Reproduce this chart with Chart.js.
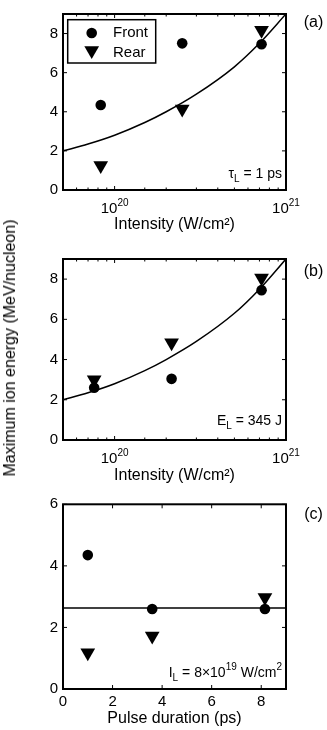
<!DOCTYPE html>
<html>
<head>
<meta charset="utf-8">
<script src="https://cdn.jsdelivr.net/npm/chart.js@4.4.0/dist/chart.umd.min.js"></script>
<style>
  body { margin: 0; background: #fff; }
  #wrap { position: relative; width: 327px; height: 730px; overflow: hidden; }
  canvas { position: absolute; left: 0; }
  #ylab {
    position: absolute; left: 9.5px; top: 348px;
    transform: translate(-50%, -50%) rotate(-90deg);
    font: 16px "Liberation Sans", Arial, sans-serif; line-height: 16px;
    white-space: nowrap; color: #000;
  }
</style>
</head>
<body>
<div id="wrap">
  <canvas id="panelA" width="327" height="245" style="top:0px"></canvas>
  <canvas id="panelB" width="327" height="240" style="top:245px"></canvas>
  <canvas id="panelC" width="327" height="245" style="top:485px"></canvas>
  <div id="ylab">Maximum ion energy (MeV/nucleon)</div>
</div>
<script>
// (a) laser pulse 1 ps, varying intensity
const intensityA = [8.3e19, 2.48e20, 7.2e20];
const frontA = [4.35, 7.5, 7.45];
const rearA = [1.25, 4.14, 8.17];
// (b) laser energy 345 J
const intensityB = [7.6e19, 2.15e20, 7.2e20];
const frontB = [2.6, 3.04, 7.45];
const rearB = [3.0, 4.83, 8.05];
// (c) fixed intensity, varying duration
const durationC = [1, 3.6, 8.15];
const frontC = [4.35, 2.6, 2.6];
const rearC = [1.18, 1.72, 2.97];
// fitted curves
const fitIntensity = [5e19, 7e19, 1e20, 1.5e20, 2e20, 3e20, 5e20, 7e20, 1e21];
const fitEnergy = [2.0, 2.35, 2.8, 3.45, 4.0, 4.9, 6.3, 7.5, 9.0];
const fitDuration = [0, 9];
const fitFlat = [2.63, 2.63];

const FONT = '"Liberation Sans", Arial, sans-serif';

function pts(xs, ys) {
  return xs.map((x, i) => ({ x: x, y: ys[i] }));
}

function drawRich(ctx, parts, x, base, size, align) {
  const small = Math.round(size * 0.68);
  let widths = parts.map(p => {
    ctx.font = (p[1] ? small : size) + 'px ' + FONT;
    return ctx.measureText(p[0]).width;
  });
  const total = widths.reduce((a, b) => a + b, 0);
  let cx = align === 'right' ? x - total : align === 'center' ? x - total / 2 : x;
  ctx.textBaseline = 'alphabetic';
  ctx.textAlign = 'left';
  parts.forEach((p, i) => {
    ctx.font = (p[1] ? small : size) + 'px ' + FONT;
    let dy = p[1] === -1 ? size * 0.3 : p[1] === 1 ? -size * 0.45 : 0;
    ctx.fillText(p[0], cx, base + dy);
    cx += widths[i];
  });
}

const decoPlugin = {
  id: 'deco',
  afterDatasetsDraw(chart, args, o) {
    const { ctx, chartArea: a, scales: { x, y } } = chart;
    ctx.save();
    ctx.fillStyle = '#000';
    ctx.strokeStyle = '#000';
    ctx.lineWidth = 1;
    // inward ticks on all four sides
    x.ticks.forEach(t => {
      const px = x.getPixelForValue(t.value);
      let major = true;
      if (o.logX) {
        const lg = Math.log10(t.value);
        major = Math.abs(lg - Math.round(lg)) < 1e-6;
      }
      const len = major ? 4 : 2.5;
      ctx.beginPath();
      ctx.moveTo(px, a.bottom); ctx.lineTo(px, a.bottom - len);
      ctx.moveTo(px, a.top); ctx.lineTo(px, a.top + len);
      ctx.stroke();
      if (o.logX) {
        if (major) {
          const e = Math.round(Math.log10(t.value));
          drawRich(ctx, [['10', 0], [String(e), 1]], px, a.bottom + 23, 15, 'center');
        }
      } else {
        drawRich(ctx, [[String(t.value), 0]], px, a.bottom + 17, 15, 'center');
      }
    });
    y.ticks.forEach(t => {
      const py = y.getPixelForValue(t.value);
      ctx.beginPath();
      ctx.moveTo(a.left, py); ctx.lineTo(a.left + 4, py);
      ctx.moveTo(a.right, py); ctx.lineTo(a.right - 4, py);
      ctx.stroke();
    });
    ctx.lineWidth = 2;
    ctx.strokeRect(a.left, a.top, a.right - a.left, a.bottom - a.top);

    // legend box
    if (o.legend) {
      const lx = a.left + 4.7, ly = a.top + 5.7;
      ctx.fillStyle = '#fff';
      ctx.fillRect(lx, ly, 88, 43.3);
      ctx.lineWidth = 1.5;
      ctx.strokeRect(lx, ly, 88, 43.3);
      ctx.fillStyle = '#000';
      ctx.lineWidth = 1;
      const ds = chart.data.datasets;
      Chart.helpers.drawPoint(ctx, { pointStyle: ds[0].pointStyle, radius: ds[0].pointRadius, rotation: 0, borderWidth: 0 }, a.left + 28.7, a.top + 19);
      Chart.helpers.drawPoint(ctx, { pointStyle: ds[1].pointStyle, radius: ds[1].pointRadius, rotation: ds[1].rotation, borderWidth: 0 }, a.left + 28.7, a.top + 36.5);
      ctx.font = '15px ' + FONT;
      ctx.textAlign = 'left';
      ctx.textBaseline = 'middle';
      ctx.fillText(ds[0].label, a.left + 50, a.top + 19);
      ctx.fillText(ds[1].label, a.left + 50, a.top + 39);
    }
    // annotation inside the plot
    ctx.fillStyle = '#000';
    drawRich(ctx, o.note, a.right - 4, a.bottom + o.noteY, 14, 'right');
    // panel letter
    ctx.font = '16px ' + FONT;
    ctx.textAlign = 'center';
    ctx.textBaseline = 'middle';
    ctx.fillText(o.letter, 313.5, a.top + o.letterY);
    ctx.restore();
  }
};

function makePanel(id, p) {
  const xScale = {
    type: p.logX ? 'logarithmic' : 'linear',
    min: p.xMin, max: p.xMax,
    ticks: { display: false, stepSize: p.xStep, includeBounds: false },
    grid: { display: false, drawTicks: false },
    border: { display: false },
    title: {
      display: true, text: p.xTitle, color: '#000',
      font: { family: FONT, size: 16 },
      padding: { top: 0, bottom: p.titlePad }
    },
    afterFit(s) { s.height = p.xHeight; }
  };
  const yScale = {
    type: 'linear', min: 0, max: p.yMax,
    ticks: { stepSize: 2, includeBounds: false, color: '#000', padding: 5, font: { family: FONT, size: 15 } },
    grid: { display: false, drawTicks: false },
    border: { display: false },
    afterFit(s) { s.width = 63; }
  };
  return new Chart(document.getElementById(id), {
    type: 'scatter',
    data: {
      datasets: [
        { label: 'Front', data: pts(p.xs, p.front), pointStyle: 'circle', pointRadius: 5.3,
          backgroundColor: '#000', borderColor: '#000', borderWidth: 0, showLine: false },
        { label: 'Rear', data: pts(p.xs, p.rear), pointStyle: 'triangle', pointRadius: 8.5, rotation: 180,
          pointRotation: 180, backgroundColor: '#000', borderColor: '#000', borderWidth: 0, showLine: false },
        { label: 'Fit', data: pts(p.fitX, p.fitY), showLine: true, pointRadius: 0, borderColor: '#000',
          borderWidth: 1.5, cubicInterpolationMode: 'monotone', fill: false }
      ]
    },
    options: {
      responsive: false,
      animation: false,
      events: [],
      layout: { padding: { top: p.padTop, right: 41, left: 0, bottom: 0 } },
      scales: { x: xScale, y: yScale },
      plugins: {
        legend: { display: false },
        tooltip: { enabled: false },
        deco: { logX: p.logX, legend: p.legend, note: p.note, noteY: p.noteY, letter: p.letter, letterY: p.letterY }
      }
    },
    plugins: [decoPlugin]
  });
}

makePanel('panelA', {
  logX: true, xMin: 5e19, xMax: 1e21, yMax: 9, xs: intensityA, front: frontA, rear: rearA,
  fitX: fitIntensity, fitY: fitEnergy, xTitle: 'Intensity (W/cm²)',
  padTop: 6, xHeight: 55, titlePad: 11, legend: true,
  note: [['τ', 0], ['L', -1], [' = 1 ps', 0]], noteY: -12, letter: '(a)', letterY: 9
});
makePanel('panelB', {
  logX: true, xMin: 5e19, xMax: 1e21, yMax: 9, xs: intensityB, front: frontB, rear: rearB,
  fitX: fitIntensity, fitY: fitEnergy, xTitle: 'Intensity (W/cm²)',
  padTop: 10.5, xHeight: 45, titlePad: 0, legend: false,
  note: [['E', 0], ['L', -1], [' = 345 J', 0]], noteY: -15, letter: '(b)', letterY: 12.5
});
makePanel('panelC', {
  logX: false, xMin: 0, xMax: 9, xStep: 2, yMax: 6, xs: durationC, front: frontC, rear: rearC,
  fitX: fitDuration, fitY: fitFlat, xTitle: 'Pulse duration (ps)',
  padTop: 19.3, xHeight: 41, titlePad: 2, legend: false,
  note: [['I', 0], ['L', -1], [' = 8×10', 0], ['19', 1], [' W/cm', 0], ['2', 1]], noteY: -12.3,
  letter: '(c)', letterY: 10.7
});
</script>
</body>
</html>
